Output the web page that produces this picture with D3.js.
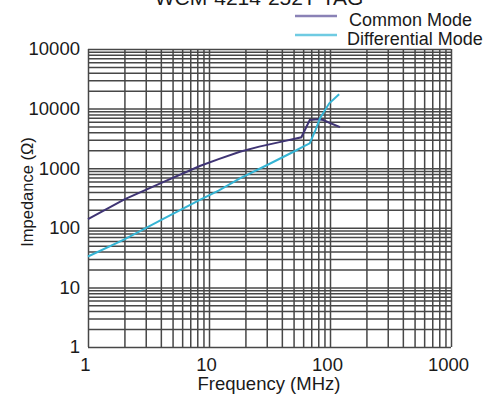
<!DOCTYPE html>
<html>
<head>
<meta charset="utf-8">
<script src="https://cdn.jsdelivr.net/npm/d3@7"></script>
<style>
  html, body { margin: 0; padding: 0; background: #fff; }
  svg { display: block; }
  text { font-family: "Liberation Sans", Arial, sans-serif; fill: #1a1a1a; }
</style>
</head>
<body>
<svg id="chart" width="502" height="398"></svg>
<script>
// ---- data ----
const chartTitle = "WCM-4214-252T-TAG";
const seriesNames = ["Common Mode", "Differential Mode"];
const commonFreq = [1, 2, 4, 8.4, 12, 18, 26, 40, 58, 68, 80, 88, 100, 121];
const commonImp  = [140, 300, 560, 1090, 1420, 1890, 2300, 2790, 3300, 6440, 6600, 6440, 5740, 4900];
const diffFreq = [1, 2, 4, 8.4, 12, 18, 30, 51.4, 60, 68, 76, 82.7, 98.6, 119];
const diffImp  = [33, 64, 135, 293, 420, 677, 1120, 1944, 2300, 2620, 4400, 6870, 12280, 17380];
const xTickValues = [1, 10, 100, 1000];
const xTickLabels = ["1", "10", "100", "1000"];
const yTickValues = [1, 10, 100, 1000, 10000, 100000];
const yTickLabels = ["1", "10", "100", "1000", "10000", "10000"];
const xTitle = "Frequency (MHz)";
const yTitle = "Impedance (\u03A9)";

(function () {
// ---- layout ----
const svg = d3.select("#chart");
const pl = 88, pr = 451, pt = 49, pb = 347;
const x = d3.scaleLog().domain([1, 1000]).range([pl, pr]);
const y = d3.scaleLog().domain([1, 100000]).range([pb, pt]);

// grid lines (1..9 per decade)
const minor = (lo, hi) => {
  const out = [];
  for (let d = lo; d < hi; d *= 10) for (let k = 1; k < 10; k++) out.push(d * k);
  out.push(hi);
  return out;
};
const gridColor = "#474747";
svg.append("g").attr("class", "grid-x")
  .attr("transform", `translate(0,${pb})`)
  .call(d3.axisBottom(x).tickValues(minor(1, 1000)).tickSize(-(pb - pt)).tickFormat(""));
svg.append("g").attr("class", "grid-y")
  .attr("transform", `translate(${pl},0)`)
  .call(d3.axisLeft(y).tickValues(minor(1, 100000)).tickSize(-(pr - pl)).tickFormat(""));
svg.selectAll(".grid-x .domain, .grid-y .domain").remove();
svg.selectAll(".grid-x line, .grid-y line").attr("stroke", gridColor).attr("stroke-width", 1.5);

// axis tick labels
const xa = svg.append("g").attr("transform", `translate(0,${pb})`)
  .call(d3.axisBottom(x).tickValues(xTickValues).tickSize(0).tickPadding(11)
    .tickFormat((d, i) => xTickLabels[i]));
xa.select(".domain").remove();
xa.selectAll("text").attr("font-size", 18.5).attr("fill", "#1a1a1a")
  .attr("font-family", "Liberation Sans, Arial, sans-serif").attr("dx", -3);

const ya = svg.append("g").attr("transform", `translate(${pl},0)`)
  .call(d3.axisLeft(y).tickValues(yTickValues).tickSize(0).tickPadding(8)
    .tickFormat((d, i) => yTickLabels[i]));
ya.select(".domain").remove();
ya.selectAll("text").attr("font-size", 18.5).attr("fill", "#1a1a1a")
  .attr("font-family", "Liberation Sans, Arial, sans-serif");

// series
const line = d3.line().x(d => x(d[0])).y(d => y(d[1]));
const colors = ["#3f3474", "#35b4d4"];
svg.append("path").datum(commonFreq.map((f, i) => [f, commonImp[i]]))
  .attr("d", line).attr("fill", "none").attr("stroke", colors[0]).attr("stroke-width", 2);
svg.append("path").datum(diffFreq.map((f, i) => [f, diffImp[i]]))
  .attr("d", line).attr("fill", "none").attr("stroke", colors[1]).attr("stroke-width", 2);

// titles
svg.append("text").attr("x", 259).attr("y", 5).attr("text-anchor", "middle")
  .attr("font-size", 21).text(chartTitle);
svg.append("text").attr("x", 269).attr("y", 390).attr("text-anchor", "middle")
  .attr("font-size", 18.5).text(xTitle);
svg.append("text").attr("transform", "translate(33,192) rotate(-90)")
  .attr("text-anchor", "middle").attr("font-size", 16.5).text(yTitle);

// legend
const legendColors = ["#8a82b6", "#6fcbe2"];
const lg = svg.append("g");
seriesNames.forEach((name, i) => {
  const ly = 20 + i * 19;
  lg.append("line").attr("x1", 295).attr("x2", 337).attr("y1", ly - 4).attr("y2", ly - 4)
    .attr("stroke", legendColors[i]).attr("stroke-width", 2.5);
  lg.append("text").attr("x", i === 0 ? 349 : 347).attr("y", ly + 6).attr("font-size", 18).text(name);
});
})();
</script>
</body>
</html>
